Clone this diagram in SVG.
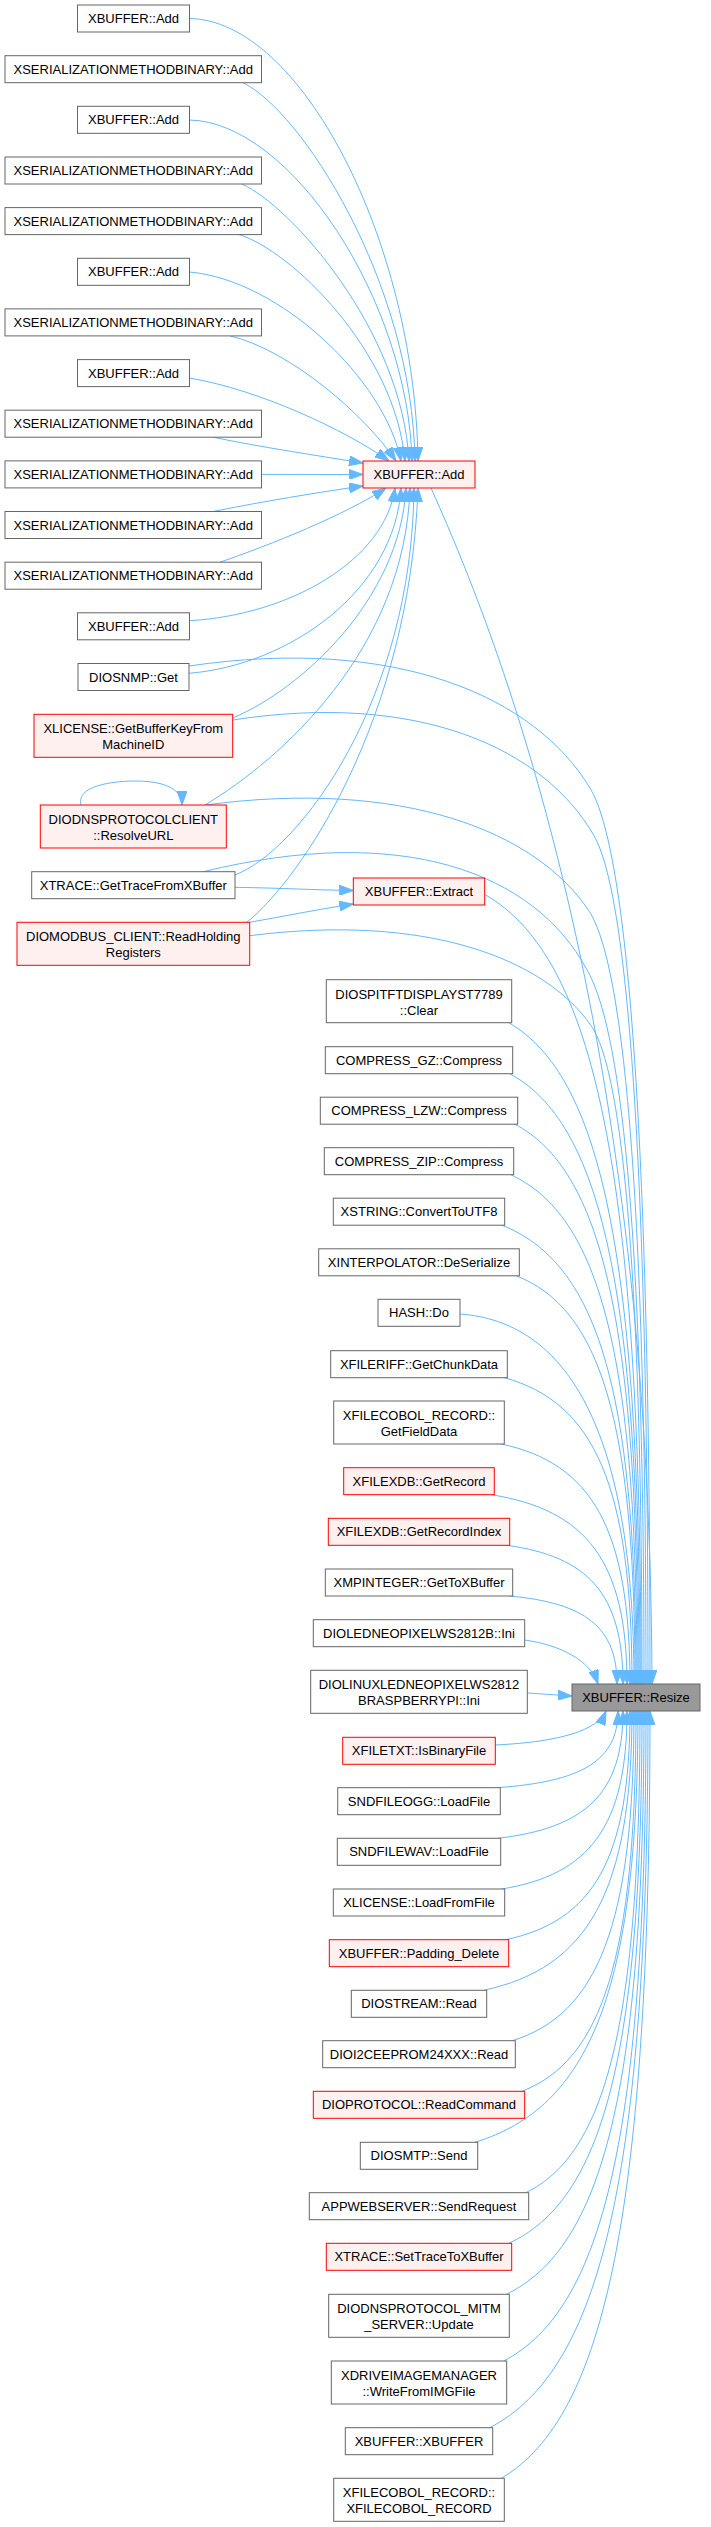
<svg xmlns="http://www.w3.org/2000/svg" width="711" height="2527" viewBox="0 0 711 2527">
<style>
.g rect{fill:#ffffff;stroke:#666666;stroke-width:1}
.r rect{fill:#fff0f0;stroke:#ff0000;stroke-width:1}
.root rect{fill:#999999;stroke:#666666;stroke-width:1}
text{font-family:"Liberation Sans",Arial,Helvetica,sans-serif;font-size:13px;fill:#000000;text-anchor:middle}
#edges path{fill:none;stroke:#63b8ff;stroke-width:1;marker-end:url(#ah)}
</style>
<defs>
<marker id="ah" viewBox="0 0 14 10" markerWidth="14" markerHeight="10" refX="14" refY="5" markerUnits="userSpaceOnUse" orient="auto">
<path d="M0,0 L14,5 L0,10 Z" fill="#63b8ff" stroke="#63b8ff" stroke-width="1"/>
</marker>
</defs>
<rect x="0" y="0" width="711" height="2527" fill="#ffffff"/>
<g id="edges">
<path d="M189.5,18.5 C300,20 415,240 418,461"/>
<path d="M243,82.7 C300,110 412,280 415,461"/>
<path d="M189.5,120 C290,122 408,300 412,461"/>
<path d="M241.7,184 C290,205 402,330 409,461"/>
<path d="M239,234.6 C290,250 395,350 405,461"/>
<path d="M189.5,272 C280,280 385,380 401,461"/>
<path d="M230,335.9 C290,350 365,415 396,461"/>
<path d="M189.5,378 C260,390 345,430 389,461"/>
<path d="M213,437.2 C260,447 320,456 363,463"/>
<path d="M261.5,474.4 L363,474.5"/>
<path d="M213,511.5 C260,502 320,492 363,486"/>
<path d="M220,562.2 C270,545 345,515 386,488"/>
<path d="M189.5,620.7 C290,615 385,560 395,488"/>
<path d="M189,673.3 C290,665 395,590 401,488"/>
<path d="M232.7,718 C300,690 400,600 406,488"/>
<path d="M205,805 C280,760 405,650 410,488"/>
<path d="M235,875 C300,850 412,700 414,488"/>
<path d="M246.7,922.3 C300,880 410,720 418,488"/>
<path d="M81,805 C76,786 112,781 135,781 C158,781 182,786 182,805"/>
<path d="M235,887.3 C280,888 315,890 353.3,890.5"/>
<path d="M249.7,922.3 C285,916 320,909 353.3,904"/>
<path d="M431,488 C490,620 650,1000 652,1684"/>
<path d="M189,666 C396.5,635.5 534.8,696.5 590.1,788.2 C626.9,849.2 650,1124.1 650,1684"/>
<path d="M232.7,720 C419.6,691.1 544.2,748.9 594,835.7 C627.2,893.5 648,1153.8 648,1684"/>
<path d="M205,805 C403.5,778.6 535.8,831.4 588.7,910.5 C624,963.2 646,1200.6 646,1684"/>
<path d="M203.3,871.7 C401.6,823 533.8,871.7 586.7,969.2 C622,1030 644,1237.2 644,1684"/>
<path d="M249.7,935.7 C426.2,913.2 543.9,958.2 591,1025.5 C622.4,1070.4 642,1272.4 642,1684"/>
<path d="M485.7,895 C594.4,958.1 641,1171.2 641,1684"/>
<path d="M508.7,1022.7 C600.6,1075.6 640,1254.2 640,1684"/>
<path d="M509.7,1073.7 C600.2,1122.5 639,1287.3 639,1684"/>
<path d="M514.7,1124.2 C601,1169 638,1320.1 638,1684"/>
<path d="M510.7,1174.7 C599.1,1215.4 637,1353 637,1684"/>
<path d="M501.7,1225.2 C595.7,1261.9 636,1385.8 636,1684"/>
<path d="M516.3,1275.8 C599.4,1308.5 635,1418.7 635,1684"/>
<path d="M460,1314 C564.4,1321.4 634,1425 634,1684"/>
<path d="M504.3,1377.7 C593.7,1402.2 632,1484.9 632,1684"/>
<path d="M501.3,1444 C591.4,1463.2 630,1528 630,1684"/>
<path d="M491.3,1494.7 C586.3,1509.8 627,1561 627,1684"/>
<path d="M506.7,1545.3 C588.1,1556.4 623,1593.8 623,1684"/>
<path d="M509.7,1596 C584.8,1603 617,1626.8 617,1684"/>
<path d="M524.7,1640 C560,1645 590,1660 598,1684"/>
<path d="M527.3,1693 C545,1694 555,1695 572,1696"/>
<path d="M495.3,1745 C560,1742 598,1730 606,1711"/>
<path d="M497.3,1787.7 C581.8,1781.6 618,1760.9 618,1711"/>
<path d="M497.7,1838.3 C585.4,1828.1 623,1793.7 623,1711"/>
<path d="M501.7,1889 C589.4,1874.8 627,1826.7 627,1711"/>
<path d="M505.7,1939.7 C592.7,1921.4 630,1859.7 630,1711"/>
<path d="M483.7,1990.3 C587.5,1968 632,1892.5 632,1711"/>
<path d="M512.3,2040.7 C597.5,2014.3 634,1925.3 634,1711"/>
<path d="M521.7,2091.3 C601.7,2060.9 636,1958.2 636,1711"/>
<path d="M474.7,2142.3 C589,2107.8 638,1991.3 638,1711"/>
<path d="M525.7,2192.7 C605.7,2154.2 640,2024.1 640,1711"/>
<path d="M508.7,2243.3 C602,2200.7 642,2057 642,1711"/>
<path d="M506.3,2294.3 C602.7,2247.6 644,2090.2 644,1711"/>
<path d="M503.7,2361 C603.3,2309 646,2133.5 646,1711"/>
<path d="M489.7,2427.7 C600.5,2370.4 648,2176.9 648,1711"/>
<path d="M501.3,2478.3 C605.4,2416.9 650,2209.8 650,1711"/>
</g>
<g id="n_l1" class="g"><rect x="77.5" y="5" width="112" height="27"/><text x="133.5" y="23">XBUFFER::Add</text></g>
<g id="n_l2" class="g"><rect x="5" y="55.7" width="256.5" height="27"/><text x="133.2" y="73.7">XSERIALIZATIONMETHODBINARY::Add</text></g>
<g id="n_l3" class="g"><rect x="77.5" y="106.3" width="112" height="27"/><text x="133.5" y="124.3">XBUFFER::Add</text></g>
<g id="n_l4" class="g"><rect x="5" y="157" width="256.5" height="27"/><text x="133.2" y="175">XSERIALIZATIONMETHODBINARY::Add</text></g>
<g id="n_l5" class="g"><rect x="5" y="207.6" width="256.5" height="27"/><text x="133.2" y="225.6">XSERIALIZATIONMETHODBINARY::Add</text></g>
<g id="n_l6" class="g"><rect x="77.5" y="258.3" width="112" height="27"/><text x="133.5" y="276.3">XBUFFER::Add</text></g>
<g id="n_l7" class="g"><rect x="5" y="308.9" width="256.5" height="27"/><text x="133.2" y="326.9">XSERIALIZATIONMETHODBINARY::Add</text></g>
<g id="n_l8" class="g"><rect x="77.5" y="359.6" width="112" height="27"/><text x="133.5" y="377.6">XBUFFER::Add</text></g>
<g id="n_l9" class="g"><rect x="5" y="410.2" width="256.5" height="27"/><text x="133.2" y="428.2">XSERIALIZATIONMETHODBINARY::Add</text></g>
<g id="n_l10" class="g"><rect x="5" y="460.9" width="256.5" height="27"/><text x="133.2" y="478.9">XSERIALIZATIONMETHODBINARY::Add</text></g>
<g id="n_l11" class="g"><rect x="5" y="511.5" width="256.5" height="27"/><text x="133.2" y="529.5">XSERIALIZATIONMETHODBINARY::Add</text></g>
<g id="n_l12" class="g"><rect x="5" y="562.2" width="256.5" height="27"/><text x="133.2" y="580.2">XSERIALIZATIONMETHODBINARY::Add</text></g>
<g id="n_l13" class="g"><rect x="77.5" y="612.8" width="112" height="27"/><text x="133.5" y="630.8">XBUFFER::Add</text></g>
<g id="n_l14" class="g"><rect x="78" y="663.5" width="111" height="27"/><text x="133.5" y="681.5">DIOSNMP::Get</text></g>
<g id="n_l15" class="r"><rect x="34" y="714.3" width="198.7" height="43"/><text x="133.3" y="733.3">XLICENSE::GetBufferKeyFrom</text><text x="133.3" y="749.3">MachineID</text></g>
<g id="n_l16" class="r"><rect x="40.3" y="805" width="186" height="43"/><text x="133.3" y="824">DIODNSPROTOCOLCLIENT</text><text x="133.3" y="840">::ResolveURL</text></g>
<g id="n_l17" class="g"><rect x="31.7" y="871.7" width="203.3" height="27"/><text x="133.3" y="889.7">XTRACE::GetTraceFromXBuffer</text></g>
<g id="n_l18" class="r"><rect x="17" y="922.3" width="232.7" height="43"/><text x="133.3" y="941.3">DIOMODBUS_CLIENT::ReadHolding</text><text x="133.3" y="957.3">Registers</text></g>
<g id="n_add" class="r"><rect x="363" y="461" width="112" height="27"/><text x="419" y="479">XBUFFER::Add</text></g>
<g id="n_extract" class="r"><rect x="353.3" y="878" width="131.4" height="27"/><text x="419" y="896">XBUFFER::Extract</text></g>
<g id="n_m2" class="g"><rect x="326.3" y="979.7" width="185.4" height="43"/><text x="419" y="998.7">DIOSPITFTDISPLAYST7789</text><text x="419" y="1014.7">::Clear</text></g>
<g id="n_m3" class="g"><rect x="325.3" y="1046.7" width="187.4" height="27"/><text x="419" y="1064.7">COMPRESS_GZ::Compress</text></g>
<g id="n_m4" class="g"><rect x="320.3" y="1097.2" width="197.4" height="27"/><text x="419" y="1115.2">COMPRESS_LZW::Compress</text></g>
<g id="n_m5" class="g"><rect x="324.3" y="1147.7" width="189.4" height="27"/><text x="419" y="1165.7">COMPRESS_ZIP::Compress</text></g>
<g id="n_m6" class="g"><rect x="333.3" y="1198.2" width="171.4" height="27"/><text x="419" y="1216.2">XSTRING::ConvertToUTF8</text></g>
<g id="n_m7" class="g"><rect x="318.7" y="1248.8" width="200.6" height="27"/><text x="419" y="1266.8">XINTERPOLATOR::DeSerialize</text></g>
<g id="n_m8" class="g"><rect x="378" y="1299.3" width="82" height="27"/><text x="419" y="1317.3">HASH::Do</text></g>
<g id="n_m9" class="g"><rect x="330.7" y="1350.7" width="176.6" height="27"/><text x="419" y="1368.7">XFILERIFF::GetChunkData</text></g>
<g id="n_m10" class="g"><rect x="333.7" y="1401" width="170.6" height="43"/><text x="419" y="1420">XFILECOBOL_RECORD::</text><text x="419" y="1436">GetFieldData</text></g>
<g id="n_m11" class="r"><rect x="343.7" y="1467.7" width="150.6" height="27"/><text x="419" y="1485.7">XFILEXDB::GetRecord</text></g>
<g id="n_m12" class="r"><rect x="328.3" y="1518.3" width="181.4" height="27"/><text x="419" y="1536.3">XFILEXDB::GetRecordIndex</text></g>
<g id="n_m13" class="g"><rect x="325.3" y="1569" width="187.4" height="27"/><text x="419" y="1587">XMPINTEGER::GetToXBuffer</text></g>
<g id="n_m14" class="g"><rect x="313.3" y="1619.7" width="211.4" height="27"/><text x="419" y="1637.7">DIOLEDNEOPIXELWS2812B::Ini</text></g>
<g id="n_m15" class="g"><rect x="310.7" y="1670.3" width="216.6" height="43"/><text x="419" y="1689.3">DIOLINUXLEDNEOPIXELWS2812</text><text x="419" y="1705.3">BRASPBERRYPI::Ini</text></g>
<g id="n_m16" class="r"><rect x="342.7" y="1737.3" width="152.6" height="27"/><text x="419" y="1755.3">XFILETXT::IsBinaryFile</text></g>
<g id="n_m17" class="g"><rect x="337.7" y="1787.7" width="162.6" height="27"/><text x="419" y="1805.7">SNDFILEOGG::LoadFile</text></g>
<g id="n_m18" class="g"><rect x="337.3" y="1838.3" width="163.4" height="27"/><text x="419" y="1856.3">SNDFILEWAV::LoadFile</text></g>
<g id="n_m19" class="g"><rect x="333.3" y="1889" width="171.4" height="27"/><text x="419" y="1907">XLICENSE::LoadFromFile</text></g>
<g id="n_m20" class="r"><rect x="329.3" y="1939.7" width="179.4" height="27"/><text x="419" y="1957.7">XBUFFER::Padding_Delete</text></g>
<g id="n_m21" class="g"><rect x="351.3" y="1990.3" width="135.4" height="27"/><text x="419" y="2008.3">DIOSTREAM::Read</text></g>
<g id="n_m22" class="g"><rect x="322.7" y="2040.7" width="192.6" height="27"/><text x="419" y="2058.7">DIOI2CEEPROM24XXX::Read</text></g>
<g id="n_m23" class="r"><rect x="313.3" y="2091.3" width="211.4" height="27"/><text x="419" y="2109.3">DIOPROTOCOL::ReadCommand</text></g>
<g id="n_m24" class="g"><rect x="360.3" y="2142.3" width="117.4" height="27"/><text x="419" y="2160.3">DIOSMTP::Send</text></g>
<g id="n_m25" class="g"><rect x="309.3" y="2192.7" width="219.4" height="27"/><text x="419" y="2210.7">APPWEBSERVER::SendRequest</text></g>
<g id="n_m26" class="r"><rect x="326.3" y="2243.3" width="185.4" height="27"/><text x="419" y="2261.3">XTRACE::SetTraceToXBuffer</text></g>
<g id="n_m27" class="g"><rect x="328.7" y="2294.3" width="180.6" height="43"/><text x="419" y="2313.3">DIODNSPROTOCOL_MITM</text><text x="419" y="2329.3">_SERVER::Update</text></g>
<g id="n_m28" class="g"><rect x="331.3" y="2361" width="175.4" height="43"/><text x="419" y="2380">XDRIVEIMAGEMANAGER</text><text x="419" y="2396">::WriteFromIMGFile</text></g>
<g id="n_m29" class="g"><rect x="345.3" y="2427.7" width="147.4" height="27"/><text x="419" y="2445.7">XBUFFER::XBUFFER</text></g>
<g id="n_m30" class="g"><rect x="333.7" y="2478.3" width="170.6" height="43"/><text x="419" y="2497.3">XFILECOBOL_RECORD::</text><text x="419" y="2513.3">XFILECOBOL_RECORD</text></g>
<g id="n_resize" class="root"><rect x="572" y="1684" width="128" height="27"/><text x="636" y="1702">XBUFFER::Resize</text></g>
</svg>
